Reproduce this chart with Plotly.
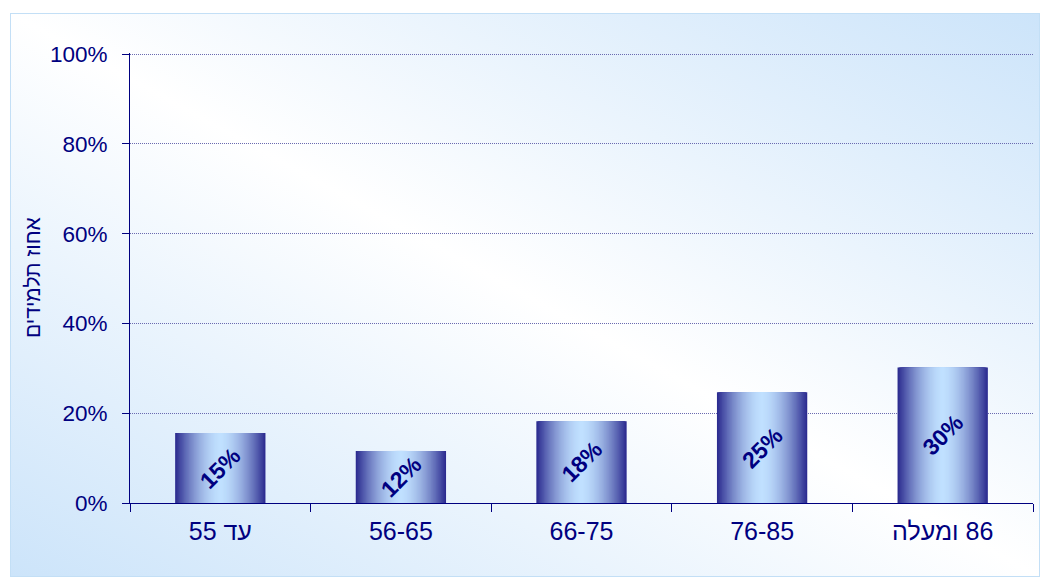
import base64
import plotly.graph_objects as go

# ---- data ----
categories = ["עד 55", "56-65", "66-75", "76-85", "86 ומעלה"]
values = [15.6, 11.6, 18.2, 24.7, 30.2]
value_labels = ["15%", "12%", "18%", "25%", "30%"]
y_ticks = [0, 20, 40, 60, 80, 100]
y_tick_text = ["0%", "20%", "40%", "60%", "80%", "100%"]
y_title = "אחוז תלמידים"

# right-to-left embedding so mixed Hebrew/number labels read as in the original
RLE, PDF = "\u202b", "\u202c"
x_labels = [RLE + c + PDF for c in categories]

NAVY = "#000080"
FONT = "Arial, Liberation Sans, sans-serif"

W, H = 1040, 577
ML, MR, MT, MB = 130, 7, 53, 74
PW, PH = W - ML - MR, H - MT - MB

fig = go.Figure()

# gradient bars built from overlaid bars of decreasing width
dark = (44, 44, 144)
light = (192, 224, 255)
N = 36
full_w = 0.5
for k in range(N):
    d = (N - k) / N
    t = d ** 1.7
    col = tuple(int(round(light[i] + (dark[i] - light[i]) * t)) for i in range(3))
    fig.add_trace(go.Bar(
        x=x_labels, y=values, width=[full_w * d] * len(values),
        marker=dict(color="rgb(%d,%d,%d)" % col, line=dict(width=0)),
        hoverinfo="skip", showlegend=False,
    ))

# rotated value labels in the middle of each bar
for c, v, lab in zip(x_labels, values, value_labels):
    fig.add_annotation(x=c, y=v / 2, text="<b>%s</b>" % lab, showarrow=False,
                       textangle=-45, xanchor="center", yanchor="middle",
                       font=dict(family=FONT, size=23, color=NAVY))

# y axis title
fig.add_annotation(xref="paper", yref="paper", x=(32 - ML) / PW, y=0.5,
                   xanchor="center", yanchor="middle",
                   text=y_title, textangle=-90, showarrow=False,
                   font=dict(family=FONT, size=21, color=NAVY))

# background gradient frame
fx0, fy0, fx1, fy1 = 10, 13, 1040, 577
svg = ('<svg xmlns="http://www.w3.org/2000/svg" width="{w}" height="{h}" viewBox="0 0 {w} {h}" '
       'preserveAspectRatio="none"><defs><linearGradient id="g" x1="0" y1="1" x2="1" y2="0">'
       '<stop offset="0" stop-color="#CCE4FA"/><stop offset="0.5" stop-color="#FFFFFF"/>'
       '<stop offset="1" stop-color="#CCE4FA"/></linearGradient></defs>'
       '<rect x="0" y="0" width="{w}" height="{h}" fill="url(#g)" stroke="#C3DFF6" stroke-width="2"/></svg>'
       ).format(w=fx1 - fx0, h=fy1 - fy0)
src = "data:image/svg+xml;base64," + base64.b64encode(svg.encode()).decode()
fig.add_layout_image(dict(
    source=src, xref="paper", yref="paper",
    x=(fx0 - ML) / PW, y=(H - MB - fy0) / PH,
    sizex=(fx1 - fx0) / PW, sizey=(fy1 - fy0) / PH,
    xanchor="left", yanchor="top", sizing="stretch", layer="below",
))

fig.update_layout(
    width=W, height=H,
    margin=dict(l=ML, r=MR, t=MT, b=MB, pad=0),
    barmode="overlay",
    paper_bgcolor="white", plot_bgcolor="rgba(0,0,0,0)",
    font=dict(family=FONT, color=NAVY),
    xaxis=dict(type="category", range=[-0.5, 4.5], tickson="boundaries",
               ticks="outside", ticklen=8, tickcolor=NAVY, tickwidth=1,
               showline=True, linecolor=NAVY, linewidth=1, showgrid=False,
               tickfont=dict(family=FONT, size=25, color=NAVY),
               ticklabelstandoff=6),
    yaxis=dict(range=[0, 100.25], tickvals=y_ticks, ticktext=y_tick_text,
               ticks="outside", ticklen=7, tickcolor=NAVY, tickwidth=1,
               showline=True, linecolor=NAVY, linewidth=1,
               showgrid=True, gridcolor="#6A6AB0", griddash="1px,1px", gridwidth=1,
               zeroline=False,
               tickfont=dict(family=FONT, size=22.5, color=NAVY),
               ticklabelstandoff=10),
)

fig.write_html("out.html", config={"displayModeBar": False},
               post_script="document.body.style.margin='0';document.body.style.padding='0';")
